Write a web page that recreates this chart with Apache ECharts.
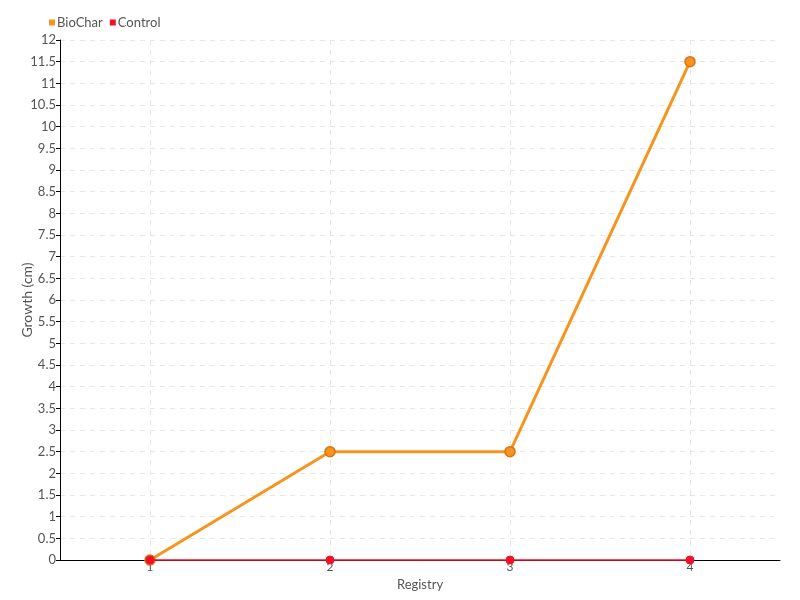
<!DOCTYPE html>
<html><head><meta charset="utf-8">
<script src="https://cdn.jsdelivr.net/npm/echarts@6/dist/echarts.min.js"></script>
<style>html,body{margin:0;padding:0;background:#fff}#c{width:800px;height:600px}</style>
</head><body><div id="c"></div>
<script>
var categories = ['1', '2', '3', '4'];
var biochar = [0, 2.5, 2.5, 11.5];
var control = [0, 0, 0, 0];
var seriesNames = ['BioChar', 'Control'];
var yTicks = [0, 0.5, 1, 1.5, 2, 2.5, 3, 3.5, 4, 4.5, 5, 5.5, 6, 6.5, 7, 7.5, 8, 8.5, 9, 9.5, 10, 10.5, 11, 11.5, 12];

var font = 'Lato, sans-serif';
var chart = echarts.init(document.getElementById('c'));
chart.setOption({
  animation: false,
  textStyle: {fontFamily: font},
  legend: {
    left: 44, top: 11, itemWidth: 6, itemHeight: 6, itemGap: 7,
    icon: 'rect',
    itemStyle: {borderWidth: 0},
    textStyle: {color: '#555', fontSize: 13, fontFamily: font, padding: [0, 0, 0, -3]},
    data: seriesNames
  },
  grid: {left: 60, right: 20, top: 40, bottom: 40, containLabel: false},
  xAxis: {
    type: 'category', data: categories, boundaryGap: true,
    name: 'Registry', nameLocation: 'middle', nameGap: 13,
    nameTextStyle: {color: '#555', fontSize: 13, fontFamily: font},
    axisLine: {lineStyle: {color: '#000'}},
    axisTick: {alignWithLabel: true, length: 6, lineStyle: {color: '#555'}},
    axisLabel: {color: '#555', fontSize: 12, margin: 1, fontFamily: font},
    splitLine: {show: true, alignWithLabel: true, lineStyle: {color: '#e6e6e6', type: [5, 5]}}
  },
  yAxis: {
    type: 'value', min: 0, max: 12, interval: 0.5,
    name: 'Growth (cm)', nameLocation: 'middle', nameGap: 26, nameMoveOverlap: false,
    nameTextStyle: {color: '#555', fontSize: 14, fontFamily: font},
    axisLine: {show: true, lineStyle: {color: '#000'}},
    axisTick: {show: true, length: 4, lineStyle: {color: '#000'}},
    axisLabel: {color: '#555', fontSize: 13, margin: 4, fontFamily: font,
      formatter: function (v) { return yTicks.indexOf(v) >= 0 ? String(v) : ''; }},
    splitLine: {show: true, lineStyle: {color: '#e6e6e6', type: [5, 5]}}
  },
  series: [
    {
      name: seriesNames[0], type: 'line', data: biochar,
      color: '#f7941d', clip: false,
      lineStyle: {width: 3, color: '#f7941d'},
      symbol: 'circle', symbolSize: 10,
      itemStyle: {color: '#f7941d', borderColor: '#d8731a', borderWidth: 1.5},
      z: 3
    },
    {
      name: seriesNames[1], type: 'line', data: control,
      color: '#f5102a', clip: false,
      lineStyle: {width: 1.5, color: '#f5102a'},
      symbol: 'circle', symbolSize: 8,
      itemStyle: {color: '#f5102a', borderColor: '#f5102a', borderWidth: 1},
      z: 4
    }
  ]
});
</script>
</body></html>
